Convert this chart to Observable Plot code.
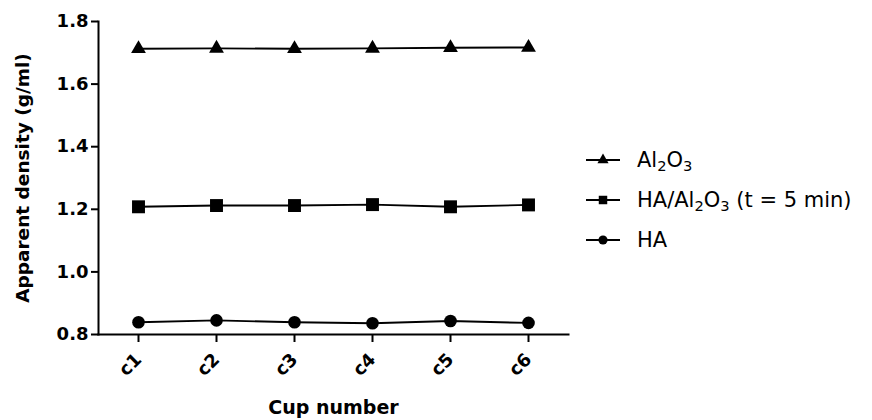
<!DOCTYPE html>
<html>
<head>
<meta charset="utf-8">
<script src="https://cdn.jsdelivr.net/npm/d3@7"></script>
<script src="https://cdn.jsdelivr.net/npm/@observablehq/plot@0.6"></script>
<style>
  body { margin: 0; background: #fff; }
  #wrap { position: relative; width: 872px; height: 420px; }
  #legend { position: absolute; left: 586px; top: 140px; font-family: "DejaVu Sans", sans-serif; font-size: 21px; color: #000; }
  .row { display: flex; align-items: center; height: 40px; }
  .row svg { width: 34px; height: 20px; margin-right: 17px; flex: none; }
  .row sub { font-size: 0.7em; vertical-align: -0.25em; line-height: 0; }
</style>
</head>
<body>
<div id="wrap"></div>
<script>
const cups = ["c1", "c2", "c3", "c4", "c5", "c6"];
const al2o3 = [1.713, 1.714, 1.713, 1.714, 1.716, 1.717];
const haAl2o3 = [1.208, 1.212, 1.212, 1.215, 1.208, 1.214];
const ha = [0.839, 0.845, 0.839, 0.836, 0.843, 0.837];
const seriesNames = ["Al2O3", "HA/Al2O3 (t = 5 min)", "HA"];
const yTicks = [0.8, 1.0, 1.2, 1.4, 1.6, 1.8];

const table = [];
[al2o3, haAl2o3, ha].forEach((vals, s) => {
  vals.forEach((v, i) => table.push({ cup: cups[i], value: v, series: seriesNames[s] }));
});
const bySeries = name => table.filter(d => d.series === name);

const chart = Plot.plot({
  width: 872,
  height: 420,
  marginLeft: 98,
  marginRight: 304,
  marginTop: 21,
  marginBottom: 86,
  x: { type: "point", domain: cups, padding: 0.5 },
  y: { domain: [0.8, 1.8] },
  style: { fontFamily: "DejaVu Sans", fontSize: "18px", fontWeight: "bold", color: "#000", background: "#fff" },
  marks: [
    Plot.axisY({ ticks: yTicks, tickFormat: d => d.toFixed(1), tickSize: 7, tickPadding: 3, strokeWidth: 2, label: null, fontSize: 18 }),
    Plot.axisX({ tickRotate: -45, tickSize: 8, tickPadding: 14, strokeWidth: 2, label: null, fontSize: 18 }),
    Plot.frame({ anchor: "left", strokeWidth: 2 }),
    Plot.frame({ anchor: "bottom", strokeWidth: 2 }),
    Plot.text(["Apparent density (g/ml)"], { frameAnchor: "left", textAnchor: "middle", rotate: -90, dx: -75, fontSize: 18.5, fontWeight: "bold" }),
    Plot.text(["Cup number"], { frameAnchor: "bottom", dy: 79, fontSize: 19, fontWeight: "bold" }),
    Plot.line(table, { x: "cup", y: "value", z: "series", stroke: "#000", strokeWidth: 1.9 }),
    Plot.dot(bySeries(seriesNames[0]), { x: "cup", y: "value", symbol: "triangle", r: 5.5, fill: "#000", stroke: "none" }),
    Plot.dot(bySeries(seriesNames[1]), { x: "cup", y: "value", symbol: "square", r: 7.3, fill: "#000", stroke: "none" }),
    Plot.dot(bySeries(seriesNames[2]), { x: "cup", y: "value", symbol: "circle", r: 6.3, fill: "#000", stroke: "none" })
  ]
});
document.getElementById("wrap").appendChild(chart);

// Legend
const legendItems = [
  { symbol: "triangle", html: "Al<sub>2</sub>O<sub>3</sub>", size: 54 },
  { symbol: "square", html: "HA/Al<sub>2</sub>O<sub>3</sub> (t = 5 min)", size: 72 },
  { symbol: "circle", html: "HA", size: 66 }
];
const symMap = { triangle: d3.symbolTriangle, square: d3.symbolSquare, circle: d3.symbolCircle };
const legend = document.createElement("div");
legend.id = "legend";
legendItems.forEach(item => {
  const row = document.createElement("div");
  row.className = "row";
  const path = d3.symbol(symMap[item.symbol], item.size)();
  row.innerHTML = `<svg viewBox="0 0 34 20"><line x1="0" x2="34" y1="10" y2="10" stroke="#000" stroke-width="2"/><path d="${path}" transform="translate(17,10)" fill="#000"/></svg><span>${item.html}</span>`;
  legend.appendChild(row);
});
document.getElementById("wrap").appendChild(legend);
</script>
</body>
</html>
